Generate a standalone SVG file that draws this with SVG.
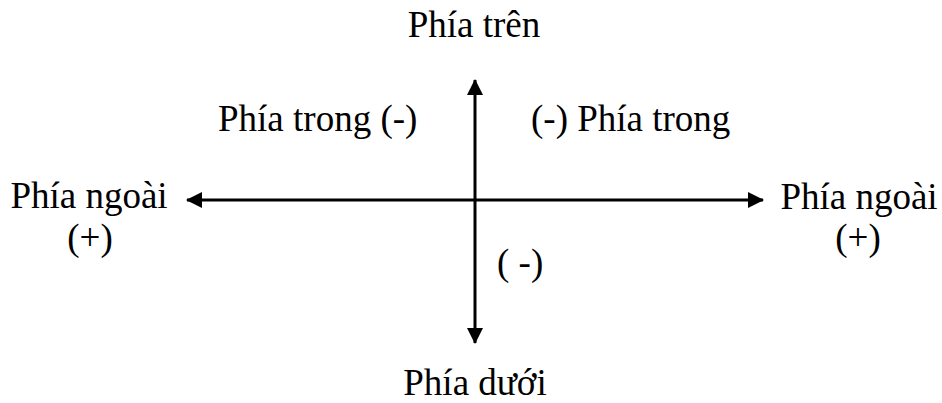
<svg xmlns="http://www.w3.org/2000/svg" width="942" height="403" viewBox="0 0 942 403">
<style>
text{font-family:"Liberation Serif","Times New Roman",serif;font-size:37px;fill:#000}
.ax{stroke:#000;stroke-width:3;fill:none}
</style>
<defs>
<marker id="ah" markerWidth="16" markerHeight="16" viewBox="0 0 16 16" refX="15" refY="8" orient="auto" markerUnits="userSpaceOnUse">
<path d="M0,0 L16,8 L0,16 Z" fill="#000"/>
</marker>
</defs>
<rect width="942" height="403" fill="#fff"/>
<g id="connectors">
<line class="ax" x1="475" y1="200" x2="763" y2="200" marker-end="url(#ah)"/>
<line class="ax" x1="475" y1="200" x2="187" y2="200" marker-end="url(#ah)"/>
<line class="ax" x1="475" y1="200" x2="475" y2="80" marker-end="url(#ah)"/>
<line class="ax" x1="475" y1="200" x2="475" y2="343" marker-end="url(#ah)"/>
</g>
<g id="top"><text x="474" y="37" text-anchor="middle">Phía trên</text></g>
<g id="upper-left"><text x="218" y="131">Phía trong (-)</text></g>
<g id="upper-right"><text x="531" y="131">(-) Phía trong</text></g>
<g id="left"><text x="89" y="208" text-anchor="middle">Phía ngoài</text><text x="90" y="250" text-anchor="middle">(+)</text></g>
<g id="right"><text x="859" y="209" text-anchor="middle">Phía ngoài</text><text x="858" y="250" text-anchor="middle">(+)</text></g>
<g id="lower"><text x="497" y="275">( -)</text></g>
<g id="bottom"><text x="475" y="395" text-anchor="middle">Phía dưới</text></g>
</svg>
